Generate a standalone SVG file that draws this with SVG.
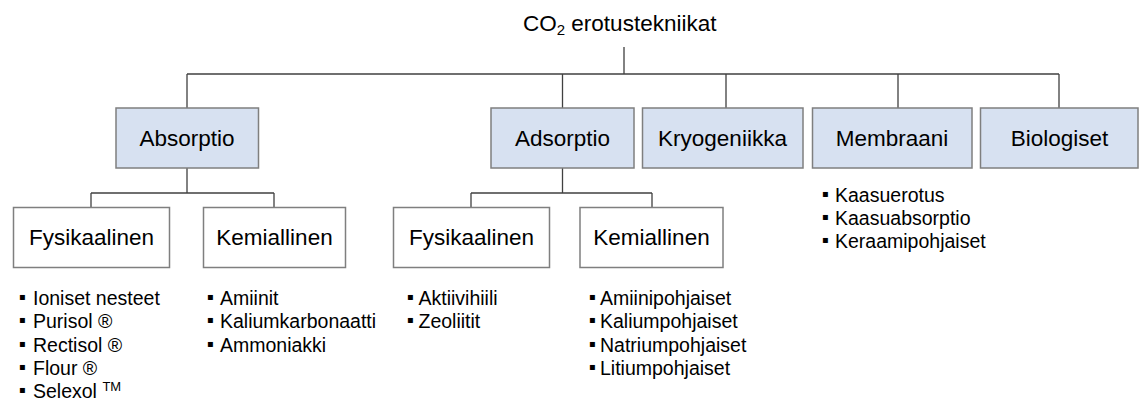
<svg xmlns="http://www.w3.org/2000/svg" width="1139" height="400" viewBox="0 0 1139 400">
<style>
text{font-family:"Liberation Sans",Arial,"DejaVu Sans",sans-serif;fill:#000}
.lbl{font-size:22.5px;text-anchor:middle}
.top{fill:#d7e1f1;stroke:#7f7f7f;stroke-width:1.5}
.sub{fill:#fff;stroke:#7f7f7f;stroke-width:1.5}
.con{fill:none;stroke:#404040;stroke-width:1.3}
.li{font-size:19.5px}
.b{font-family:"DejaVu Sans",sans-serif;font-size:10px}
</style>
<rect width="1139" height="400" fill="#fff"/>
<g id="connectors">
<path class="con" d="M624 47V74M187 74H1059M187 74V108M562.5 74V108M726 74V108M898 74V108M1059 74V108"/>
<path class="con" d="M187 168V193M91 193H274M91 193V207M274 193V207"/>
<path class="con" d="M562.5 168V193M471 193H652M471 193V207M652 193V207"/>
</g>
<g id="title">
<text x="523" y="31" style="font-size:22.5px">CO<tspan style="font-size:15px" dy="4">2</tspan><tspan dy="-4"> erotustekniikat</tspan></text>
</g>
<g id="absorptio">
<rect class="top" x="116" y="108" width="142.5" height="60"/>
<text class="lbl" x="187" y="146">Absorptio</text>
</g>
<g id="adsorptio">
<rect class="top" x="491" y="108" width="143" height="60"/>
<text class="lbl" x="562.5" y="146">Adsorptio</text>
</g>
<g id="kryogeniikka">
<rect class="top" x="642.5" y="108" width="160.5" height="60"/>
<text class="lbl" x="722.5" y="146">Kryogeniikka</text>
</g>
<g id="membraani">
<rect class="top" x="812.5" y="108" width="159.5" height="60"/>
<text class="lbl" x="892" y="146">Membraani</text>
</g>
<g id="biologiset">
<rect class="top" x="980.5" y="108" width="157.5" height="60"/>
<text class="lbl" x="1059.5" y="146">Biologiset</text>
</g>
<g id="abs-fysikaalinen">
<rect class="sub" x="13.5" y="207.5" width="156" height="60"/>
<text class="lbl" x="91.5" y="245">Fysikaalinen</text>
</g>
<g id="abs-kemiallinen">
<rect class="sub" x="203.5" y="207.5" width="142" height="60"/>
<text class="lbl" x="274.5" y="245">Kemiallinen</text>
</g>
<g id="ads-fysikaalinen">
<rect class="sub" x="393.5" y="207.5" width="156" height="60"/>
<text class="lbl" x="471.5" y="245">Fysikaalinen</text>
</g>
<g id="ads-kemiallinen">
<rect class="sub" x="580" y="207.5" width="143" height="60"/>
<text class="lbl" x="651.5" y="245">Kemiallinen</text>
</g>
<g id="list-abs-fys" class="li">
<text y="305"><tspan class="b" x="19" dy="-5">▪</tspan><tspan x="33" dy="5">Ioniset nesteet</tspan></text>
<text y="328.3"><tspan class="b" x="19" dy="-5">▪</tspan><tspan x="33" dy="5">Purisol ®</tspan></text>
<text y="351.7"><tspan class="b" x="19" dy="-5">▪</tspan><tspan x="33" dy="5">Rectisol ®</tspan></text>
<text y="375"><tspan class="b" x="19" dy="-5">▪</tspan><tspan x="33" dy="5">Flour ®</tspan></text>
<text y="397.5"><tspan class="b" x="19" dy="-5">▪</tspan><tspan x="33" dy="5">Selexol </tspan><tspan style="font-size:13px" dy="-7">TM</tspan></text>
</g>
<g id="list-abs-kem" class="li">
<text y="305"><tspan class="b" x="207" dy="-5">▪</tspan><tspan x="220" dy="5">Amiinit</tspan></text>
<text y="328.3"><tspan class="b" x="207" dy="-5">▪</tspan><tspan x="220" dy="5">Kaliumkarbonaatti</tspan></text>
<text y="351.7"><tspan class="b" x="207" dy="-5">▪</tspan><tspan x="220" dy="5">Ammoniakki</tspan></text>
</g>
<g id="list-ads-fys" class="li">
<text y="305"><tspan class="b" x="407" dy="-5">▪</tspan><tspan x="418.5" dy="5">Aktiivihiili</tspan></text>
<text y="328.3"><tspan class="b" x="407" dy="-5">▪</tspan><tspan x="418.5" dy="5">Zeoliitit</tspan></text>
</g>
<g id="list-ads-kem" class="li">
<text y="305"><tspan class="b" x="589" dy="-5">▪</tspan><tspan x="600" dy="5">Amiinipohjaiset</tspan></text>
<text y="328.3"><tspan class="b" x="589" dy="-5">▪</tspan><tspan x="600" dy="5">Kaliumpohjaiset</tspan></text>
<text y="351.7"><tspan class="b" x="589" dy="-5">▪</tspan><tspan x="600" dy="5">Natriumpohjaiset</tspan></text>
<text y="375"><tspan class="b" x="589" dy="-5">▪</tspan><tspan x="600" dy="5">Litiumpohjaiset</tspan></text>
</g>
<g id="list-membraani" class="li">
<text y="201.7"><tspan class="b" x="822" dy="-5">▪</tspan><tspan x="835" dy="5">Kaasuerotus</tspan></text>
<text y="225"><tspan class="b" x="822" dy="-5">▪</tspan><tspan x="835" dy="5">Kaasuabsorptio</tspan></text>
<text y="248.3"><tspan class="b" x="822" dy="-5">▪</tspan><tspan x="835" dy="5">Keraamipohjaiset</tspan></text>
</g>
</svg>
